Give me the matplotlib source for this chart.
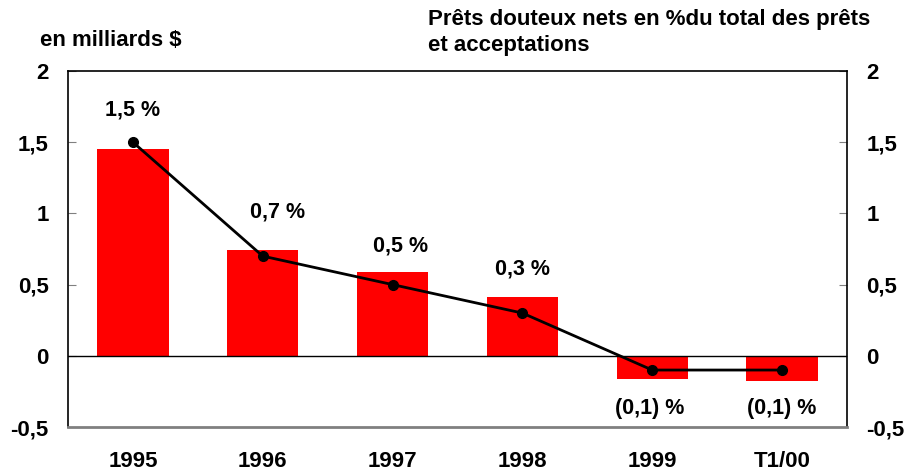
import matplotlib
matplotlib.use("Agg")
import matplotlib.pyplot as plt

categories = ["1995", "1996", "1997", "1998", "1999", "T1/00"]
bar_values = [1.45, 0.74, 0.59, 0.415, -0.16, -0.18]
line_values = [1.5, 0.7, 0.5, 0.3, -0.1, -0.1]
point_labels = ["1,5 %", "0,7 %", "0,5 %", "0,3 %", "(0,1) %", "(0,1) %"]
yticks = [-0.5, 0, 0.5, 1, 1.5, 2]
ytick_labels = ["-0,5", "0", "0,5", "1", "1,5", "2"]

plt.rcParams['font.family'] = ['Liberation Sans', 'DejaVu Sans']
plt.rcParams['font.weight'] = 'bold'

fig = plt.figure(figsize=(9.07, 4.73), dpi=100)
ax = fig.add_axes([68/907, 46/473, (847-68)/907, (427-71)/473])

x = list(range(len(categories)))
ax.bar(x, bar_values, width=0.55, color="#ff0000", zorder=2)
ax.axhline(0, color="black", lw=1, zorder=3)
ax.plot(x, line_values, color="black", lw=2, marker="o", markersize=7, zorder=4)

# label offsets (points) relative to line points
offsets = [(0, 23), (11, 32), (6, 28), (0, 32), (-2, -28), (0, -28)]
for xi, yi, lab, off in zip(x, line_values, point_labels, offsets):
    ax.annotate(lab, (xi, yi), xytext=off, textcoords="offset points",
                ha="center", va="center", fontsize=15.5, fontweight="bold")

ax.set_xlim(-0.5, len(categories) - 0.5)
ax.set_ylim(-0.5, 2)
ax.set_yticks(yticks)
ax.set_yticklabels(ytick_labels)
ax.set_xticks(x)
ax.set_xticklabels(categories)
ax.tick_params(axis="y", direction="in", length=6, color="#808080", labelsize=16, pad=14,
               left=True, right=True, labelleft=True, labelright=True)
ax.tick_params(axis="x", length=0, labelsize=16, pad=17)
for s in ["top", "left", "right"]:
    ax.spines[s].set_color("black")
    ax.spines[s].set_linewidth(1.2)
ax.spines["bottom"].set_color("#808080")
ax.spines["bottom"].set_linewidth(2)

fig.text(40/907, 1 - 41/473, "en milliards $", fontsize=16, fontweight="bold", ha="left", va="center")
fig.text(428/907, 1 - 32.5/473, "Prêts douteux nets en %du total des prêts\net acceptations",
         fontsize=16, fontweight="bold", ha="left", va="center", linespacing=1.25)

fig.savefig("out.png", dpi=100)
